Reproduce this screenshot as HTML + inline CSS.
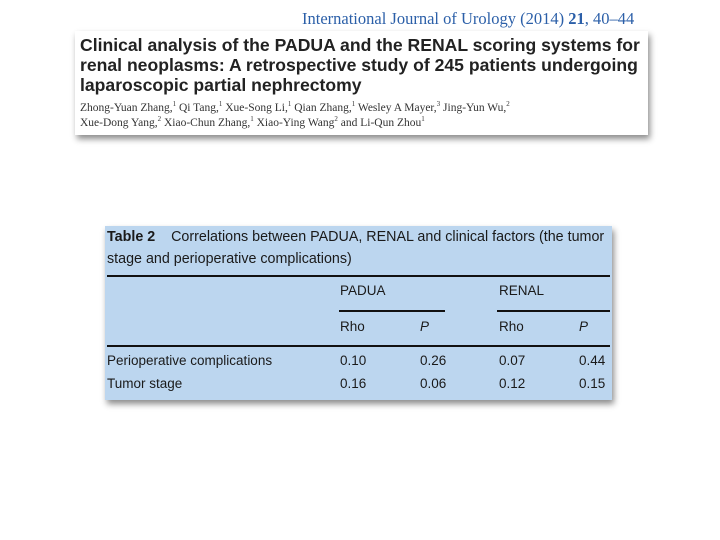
<!DOCTYPE html>
<html><head><meta charset="utf-8"><style>
body{margin:0;width:720px;height:540px;background:#fff;position:relative;overflow:hidden;font-family:"Liberation Sans",sans-serif}
.a{position:absolute;white-space:nowrap}
.hdr{position:absolute;left:75px;top:31px;width:573px;height:104px;background:#fff;box-shadow:2px 4px 6px rgba(0,0,0,.45)}
.t{font-weight:bold;font-size:17.6px;color:#222;left:80px}
.au{font-family:"Liberation Serif",serif;font-size:11.5px;color:#333;left:80px}
.tb{position:absolute;left:105px;top:226px;width:507px;height:174px;background:#bcd6ef;box-shadow:2px 4px 6px rgba(0,0,0,.45)}
.c{font-size:13.5px;color:#1a1a1a}
.cap{font-size:14.3px;color:#1a1a1a}
.ln{position:absolute;background:#111}
</style></head><body>
<div class="a" style="left:302px;top:9px;font-family:'Liberation Serif',serif;font-size:16.5px;color:#2b5fa8">International Journal of Urology (2014) <b>21</b>, 40–44</div>
<div class="hdr"></div>
<div class="a t" style="top:35px">Clinical analysis of the PADUA and the RENAL scoring systems for</div>
<div class="a t" style="top:55px">renal neoplasms: A retrospective study of 245 patients undergoing</div>
<div class="a t" style="top:75px">laparoscopic partial nephrectomy</div>
<div class="a au" style="top:100px">Zhong-Yuan Zhang,<sup style="font-size:7px">1</sup> Qi Tang,<sup style="font-size:7px">1</sup> Xue-Song Li,<sup style="font-size:7px">1</sup> Qian Zhang,<sup style="font-size:7px">1</sup> Wesley A Mayer,<sup style="font-size:7px">3</sup> Jing-Yun Wu,<sup style="font-size:7px">2</sup></div>
<div class="a au" style="top:115px">Xue-Dong Yang,<sup style="font-size:7px">2</sup> Xiao-Chun Zhang,<sup style="font-size:7px">1</sup> Xiao-Ying Wang<sup style="font-size:7px">2</sup> and Li-Qun Zhou<sup style="font-size:7px">1</sup></div>

<div class="tb"></div>
<div class="a cap" style="left:107px;top:229px"><b>Table 2</b>&nbsp;&nbsp;&nbsp; Correlations between PADUA, RENAL and clinical factors (the tumor</div>
<div class="a cap" style="left:107px;top:251px">stage and perioperative complications)</div>
<div class="ln" style="left:107px;top:275px;width:503px;height:2px"></div>
<div class="a c" style="left:340px;top:283px">PADUA</div>
<div class="a c" style="left:499px;top:283px">RENAL</div>
<div class="ln" style="left:339px;top:310px;width:106px;height:1.5px"></div>
<div class="ln" style="left:497px;top:310px;width:113px;height:1.5px"></div>
<div class="a c" style="left:340px;top:319px">Rho</div>
<div class="a c" style="left:420px;top:319px;font-style:italic">P</div>
<div class="a c" style="left:499px;top:319px">Rho</div>
<div class="a c" style="left:579px;top:319px;font-style:italic">P</div>
<div class="ln" style="left:107px;top:345px;width:503px;height:1.5px"></div>
<div class="a c" style="left:107px;top:353px">Perioperative complications</div>
<div class="a c" style="left:340px;top:353px">0.10</div>
<div class="a c" style="left:420px;top:353px">0.26</div>
<div class="a c" style="left:499px;top:353px">0.07</div>
<div class="a c" style="left:579px;top:353px">0.44</div>
<div class="a c" style="left:107px;top:376px">Tumor stage</div>
<div class="a c" style="left:340px;top:376px">0.16</div>
<div class="a c" style="left:420px;top:376px">0.06</div>
<div class="a c" style="left:499px;top:376px">0.12</div>
<div class="a c" style="left:579px;top:376px">0.15</div>
</body></html>
